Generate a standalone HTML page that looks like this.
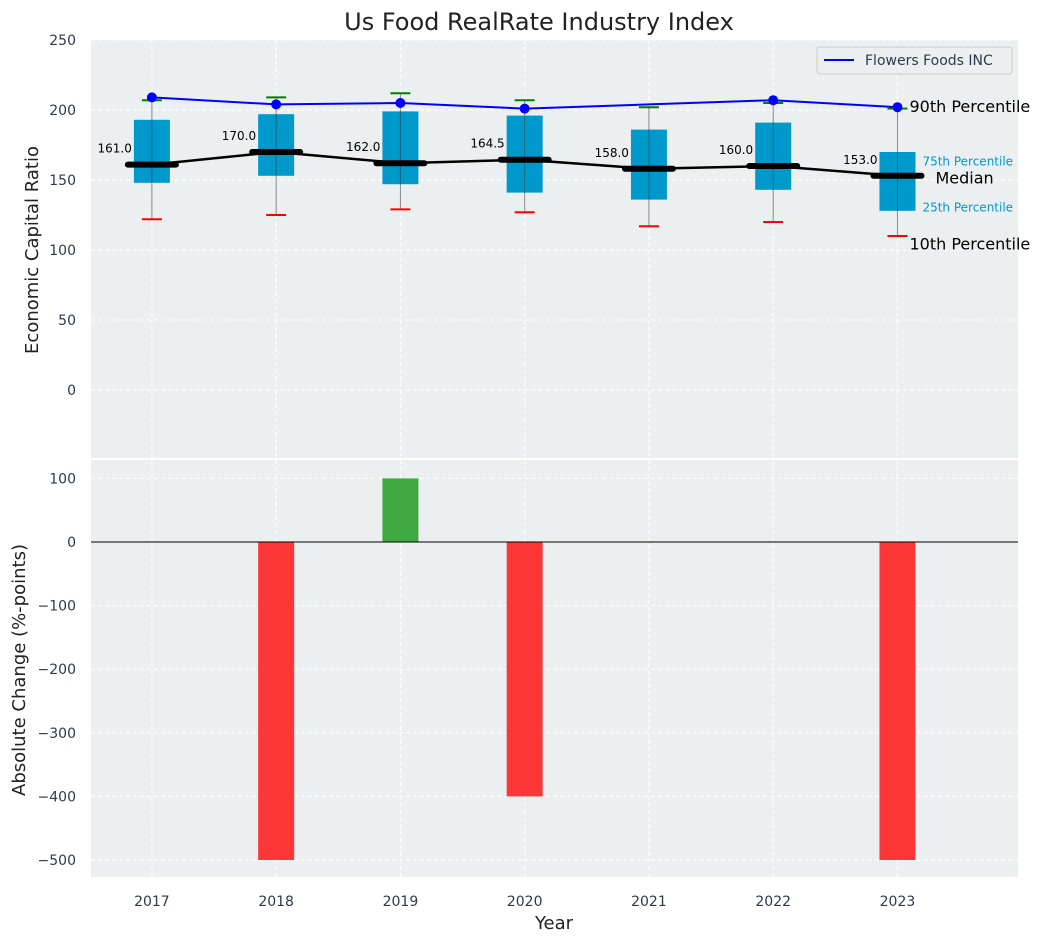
<!DOCTYPE html>
<html><head><meta charset="utf-8"><style>
body{margin:0;background:#fff;}
svg{font-family:"DejaVu Sans","Liberation Sans",sans-serif;}
</style></head><body>
<svg id="c" width="1044" height="942" xmlns="http://www.w3.org/2000/svg"></svg>
<script>
const years=[2017,2018,2019,2020,2021,2022,2023];
const p10=[122,125,129,127,117,120,110];
const p25=[148,153,147,141,136,143,128];
const med=[161,170,162,164.5,158,160,153];
const p75=[193,197,199,196,186,191,170];
const p90=[207,209,212,207,202,205,201];
const company=[209,204,205,201,204,207,202];
const companyMarker=[true,true,true,true,false,true,true];
const changes=[0,-500,100,-400,0,0,-500];
const topTicks=[0,50,100,150,200,250];
const botTicks=[-500,-400,-300,-200,-100,0,100];

const svg=document.getElementById('c');
const NS='http://www.w3.org/2000/svg';
function mk(t,a,txt){const e=document.createElementNS(NS,t);for(const k in a)e.setAttribute(k,a[k]);if(txt!==undefined)e.textContent=txt;svg.appendChild(e);return e;}
const L=91,R=1018;
const x=v=>L+(v-2016.51)/(2023.97-2016.51)*(R-L);
const T0=40,T1=458,yT=v=>390-v*1.4;
const B0=460,B1=877,yB=v=>542-v*0.636;

let e;
e=mk('rect',{x:L,y:T0,width:R-L,height:T1-T0,fill:'#ebeff0'});

e=mk('rect',{x:L,y:B0,width:R-L,height:B1-B0,fill:'#ebeff0'});

years.forEach(yr=>{
 mk('line',{x1:x(yr),x2:x(yr),y1:T0,y2:T1,stroke:'#fff','stroke-dasharray':'4,3','stroke-width':1});
 mk('line',{x1:x(yr),x2:x(yr),y1:B0,y2:B1,stroke:'#fff','stroke-dasharray':'4,3','stroke-width':1});
 e=mk('text',{x:x(yr),y:906,'text-anchor':'middle','font-size':14,fill:'#2e3a4a'},yr);
 
});
topTicks.forEach(t=>{
 mk('line',{x1:L,x2:R,y1:yT(t),y2:yT(t),stroke:'#fff','stroke-dasharray':'4,3'});
 e=mk('text',{x:76,y:yT(t)+5,'text-anchor':'end','font-size':14,fill:'#2e3a4a'},t);
 
});
botTicks.forEach(t=>{
 mk('line',{x1:L,x2:R,y1:yB(t),y2:yB(t),stroke:'#fff','stroke-dasharray':'4,3'});
 e=mk('text',{x:76,y:yB(t)+5,'text-anchor':'end','font-size':14,fill:'#2e3a4a'},String(t).replace('-','\u2212'));
 
});
years.forEach((yr,i)=>{
 const cx=x(yr);
 mk('line',{x1:cx,x2:cx,y1:yT(p90[i]),y2:yT(p10[i]),stroke:'#888','stroke-width':1});
 e=mk('rect',{x:cx-18,y:yT(p75[i]),width:36,height:yT(p25[i])-yT(p75[i]),fill:'#0099cc'});
 
 mk('line',{x1:cx,x2:cx,y1:yT(p75[i]),y2:yT(p25[i]),stroke:'#333','stroke-width':1,opacity:0.5});
 mk('line',{x1:cx-10,x2:cx+10,y1:yT(p90[i]),y2:yT(p90[i]),stroke:'green','stroke-width':2});
 mk('line',{x1:cx-10,x2:cx+10,y1:yT(p10[i]),y2:yT(p10[i]),stroke:'red','stroke-width':2});
});
mk('polyline',{points:years.map((yr,i)=>x(yr)+','+yT(med[i])).join(' '),fill:'none',stroke:'#000','stroke-width':2.5});
years.forEach((yr,i)=>{
 const cx=x(yr);
 e=mk('line',{x1:cx-24,x2:cx+24,y1:yT(med[i]),y2:yT(med[i]),stroke:'#000','stroke-width':6,'stroke-linecap':'round'});
 
 e=mk('text',{x:cx-20,y:yT(med[i])-12,'text-anchor':'end','font-size':12,fill:'#000'},med[i].toFixed(1));
 
});
e=mk('polyline',{points:years.map((yr,i)=>x(yr)+','+yT(company[i])).join(' '),fill:'none',stroke:'blue','stroke-width':2});

years.forEach((yr,i)=>{if(companyMarker[i]){e=mk('circle',{cx:x(yr),cy:yT(company[i]),r:5,fill:'blue'});
 }});
const lx=x(2023);
[['90th Percentile',p90[6]+1,16,'#000',12],['75th Percentile',p75[6]-6,12,'#0099cc',25],['Median',med[6]-2,16,'#000',38],['25th Percentile',p25[6]+3,12,'#0099cc',25],['10th Percentile',p10[6]-6,16,'#000',12]].forEach(a=>{
 e=mk('text',{x:lx+a[4],y:yT(a[1])+5,'font-size':a[2],fill:a[3]},a[0]);
 
});
e=mk('rect',{x:817,y:47,width:195,height:27,fill:'#ebeff0',stroke:'#ccc',rx:3});

mk('line',{x1:824,x2:854,y1:60,y2:60,stroke:'blue','stroke-width':2});
e=mk('text',{x:865,y:65,'font-size':14,fill:'#2e3a4a'},'Flowers Foods INC');

years.forEach((yr,i)=>{
 const v=changes[i];if(v===0)return;
 const y0=yB(Math.max(v,0)),y1=yB(Math.min(v,0));
 e=mk('rect',{x:x(yr)-18,y:y0,width:36,height:y1-y0,fill:v>0?'#2ca02c':'#ff2222',opacity:0.9});
 
});
mk('line',{x1:L,x2:R,y1:yB(0),y2:yB(0),stroke:'#000','stroke-width':1});
e=mk('text',{x:539,y:30,'text-anchor':'middle','font-size':24,fill:'#222'},'Us Food RealRate Industry Index');

e=mk('text',{x:554,y:929,'text-anchor':'middle','font-size':18,fill:'#222'},'Year');

e=mk('text',{x:0,y:0,'text-anchor':'middle','font-size':18,fill:'#222',transform:'translate(38,250) rotate(-90)'},'Economic Capital Ratio');

e=mk('text',{x:0,y:0,'text-anchor':'middle','font-size':18,fill:'#222',transform:'translate(25,670) rotate(-90)'},'Absolute Change (%-points)');

</script>
</body></html>
